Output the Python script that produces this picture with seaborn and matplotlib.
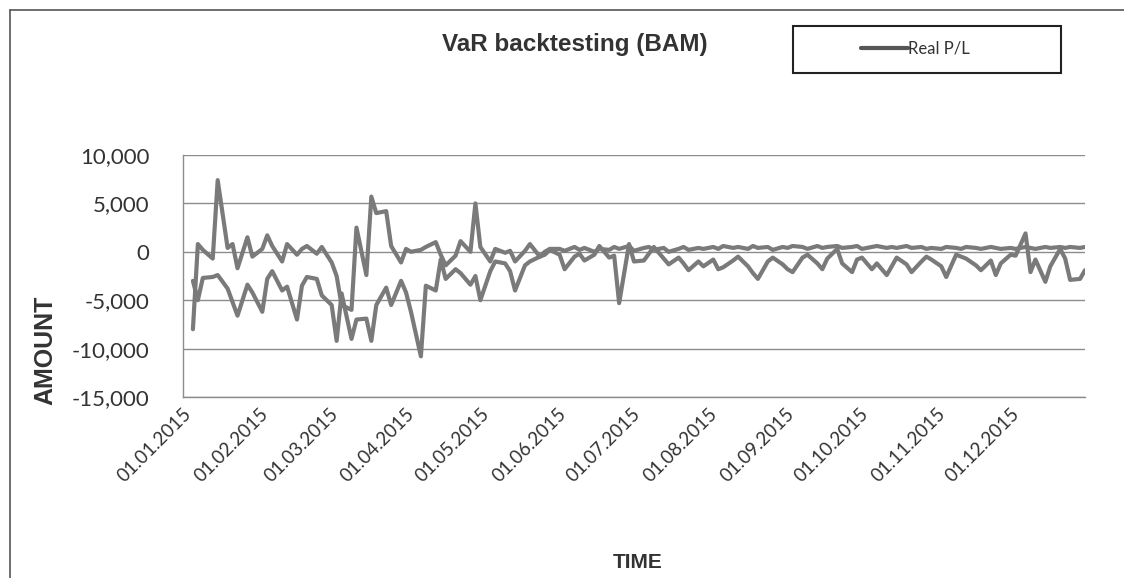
import numpy as np
import pandas as pd
import matplotlib
matplotlib.use('Agg')
import matplotlib.pyplot as plt
import matplotlib.dates as mdates
from matplotlib.lines import Line2D
from matplotlib.patches import Rectangle
import seaborn as sns

# every second business day of 2015
dates = pd.bdate_range('2015-01-05', '2015-12-31')[::2]

real_pl = [
    -8000, 800, 200, -700, 7400, 400, 800, -1700, 1500, -500,
    300, 1700, 600, -1000, 800, -300, 300, 600, -200, 500,
    -1100, -2500, -5500, -6000, 2500, -2400, 5700, 4000, 4200, 600,
    -1100, 300, 0, 200, 500, 1000, -300, -1400, -400, 1100,
    0, 5000, 500, -1000, 300, -100, 100, -1000, 100, 800,
    -500, 0, 300,
    300, 100, 500, 200, 400, 0, 300, 200, 500, 300, 600,
    100, 400, 500, 200, 400, 0, 300, 500, 200, 400, 300,
    500, 300, 600, 400, 500, 300, 600, 400, 500, 200, 500,
    400, 600, 500, 300, 600, 400, 500, 600, 400, 500, 600,
    300, 500, 600, 400, 500, 400, 600, 400, 500, 300, 400,
    300, 500, 400, 300, 500, 400, 300, 500, 400, 300,
    400, 300, 500, 400, 300, 500, 400, 500, 400, 500, 400, 500,
]

var_line = [
    -3000, -5000, -2700, -2600, -2400, -3800, -5200, -6600, -3400, -4200,
    -6200, -2800, -2000, -4000, -3600, -7000, -3500, -2600, -2800, -4500,
    -5500, -9200, -4300, -9000, -7000, -6900, -9200, -5500, -3700, -5500,
    -3000, -4200, -6200, -10800, -3500, -4000, -800, -2800, -1800, -2200,
    -3400, -2500, -5000, -2000, -1000, -1200, -2000, -4000, -1400, -1000,
    -500, -300, 200,
    -300, -1800, -500, -200, -900, -300, 600, -600, -400, -5300, 800,
    -1000, -900, -200, 500, -700, -1300, -600, -1200, -1900, -1000, -1500,
    -800, -1800, -1600, -900, -500, -1500, -2200, -2800, -1000, -600, -1300,
    -1800, -2100, -600, -300, -1200, -1800, -700, 300, -1200, -2100, -800,
    -600, -1800, -1200, -2400, -1500, -600, -1300, -2100, -1000, -500, -800,
    -1500, -2600, -300, -500, -700, -1400, -1900, -900, -2400, -1200,
    -300, -400, 1900, -2100, -800, -3100, -1500, 300, -700, -2900, -2800, -1900,
]

df = pd.DataFrame({'date': dates, 'Real P/L': real_pl, 'VaR': var_line})

sns.set_theme(style='white')
plt.rcParams['font.family'] = ['Lato', 'DejaVu Sans']

W, H = 1124, 578
fig = plt.figure(figsize=(W / 100, H / 100), dpi=100)
ax = fig.add_axes([183 / W, 1 - 397 / H, (1085 - 183) / W, (397 - 155) / H])

line_gray = '#7a7a7a'
sns.lineplot(data=df, x='date', y='VaR', ax=ax, color=line_gray, lw=3, legend=False)
sns.lineplot(data=df, x='date', y='Real P/L', ax=ax, color=line_gray, lw=3, legend=False)

ax.set_ylim(-15000, 10000)
ax.set_yticks(range(-15000, 10001, 5000))
ax.set_yticklabels([f'{v:,}' for v in range(-15000, 10001, 5000)])
ax.set_xlim(pd.Timestamp('2015-01-01'), pd.Timestamp('2015-12-31'))
ax.xaxis.set_major_locator(mdates.MonthLocator())
ax.xaxis.set_major_formatter(mdates.DateFormatter('%d.%m.%Y'))
ax.yaxis.grid(True, color='#8c8c8c', lw=1)
ax.set_axisbelow(True)
for s in ['top', 'right']:
    ax.spines[s].set_visible(False)
for s in ['left', 'bottom']:
    ax.spines[s].set_color('#8c8c8c')
    ax.spines[s].set_linewidth(1)
ax.tick_params(axis='y', labelsize=16, colors='#333333', length=0, pad=24)
ax.tick_params(axis='x', labelsize=13.5, colors='#333333', length=0, pad=6)
plt.setp(ax.get_xticklabels(), rotation=45, ha='right', rotation_mode='anchor')
ax.set_xlabel('')
ax.set_ylabel('')

# axis titles and chart title
fig.text(575 / W, 1 - 45 / H, 'VaR backtesting (BAM)', ha='center', va='center',
         fontsize=17.5, fontweight='bold', family='Liberation Sans', color='#333333')
fig.text(45 / W, 1 - 350 / H, 'AMOUNT', rotation=90, ha='center', va='center',
         fontsize=18, fontweight='bold', family='Liberation Sans', color='#333333')
fig.text(638 / W, 1 - 562 / H, 'TIME', ha='center', va='center',
         fontsize=15, fontweight='bold', family='Liberation Sans', color='#333333')

# legend box
fig.patches.append(Rectangle((793 / W, 1 - 73 / H), (1061 - 793) / W, (73 - 26) / H,
                             transform=fig.transFigure, fill=False, ec='#222222', lw=1.5))
leg = ax.legend(handles=[Line2D([], [], color='#555555', lw=3)], labels=['Real P/L'],
                loc='center left', bbox_to_anchor=(846 / W, 1 - 49 / H),
                bbox_transform=fig.transFigure, frameon=False, fontsize=12,
                handlelength=2.8, handletextpad=0.05)
for t in leg.get_texts():
    t.set_color('#333333')

# outer chart frame
fig.add_artist(Line2D([10 / W, 10 / W], [0, 1 - 10 / H], transform=fig.transFigure,
                      color='#555555', lw=1.2))
fig.add_artist(Line2D([10 / W, 1], [1 - 10 / H, 1 - 10 / H], transform=fig.transFigure,
                      color='#555555', lw=1.2))

fig.savefig('out.png', dpi=100)
